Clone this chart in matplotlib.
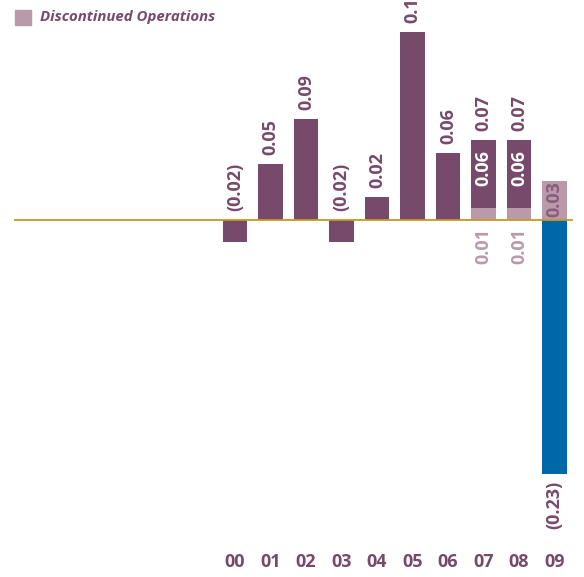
import matplotlib
matplotlib.use("Agg")
import matplotlib.pyplot as plt
from matplotlib.patches import Rectangle

years = ["00", "01", "02", "03", "04", "05", "06", "07", "08", "09"]
continuing = [-0.02, 0.05, 0.09, -0.02, 0.02, 0.168, 0.06, 0.06, 0.06, -0.227]
discontinued = [0, 0, 0, 0, 0, 0, 0, 0.011, 0.011, 0.035]
total_labels = ["(0.02)", "0.05", "0.09", "(0.02)", "0.02", "0.17", "0.06", "0.07", "0.07", ""]
cont_labels = ["", "", "", "", "", "", "", "0.06", "0.06", "(0.23)"]
disc_labels = ["", "", "", "", "", "", "", "0.01", "0.01", "0.03"]

purple = "#774a6b"
light = "#b89aaa"
blue = "#0068a8"
gold = "#c49a22"

plt.rcParams['font.family'] = ['Open Sans', 'DejaVu Sans']

fig = plt.figure(figsize=(5.84, 5.77), dpi=100)
ax = fig.add_axes([0, 0, 1, 1])
ax.set_xlim(-6.62, 9.83)
ax.set_ylim(-0.319, 0.1964)
ax.axis("off")

x = list(range(len(years)))
w = 0.7
for i in x:
    c = continuing[i]
    d = discontinued[i]
    if c < 0:
        col = blue if i == 9 else purple
        ax.bar(i, c, width=w, color=col, zorder=2)
        if d > 0:
            ax.bar(i, d, width=w, color=light, zorder=2)
    else:
        if d > 0:
            ax.bar(i, d, width=w, color=light, zorder=2)
        ax.bar(i, c, bottom=d, width=w, color=purple, zorder=2)

ax.plot([-6.2, 9.5], [0, 0], color=gold, lw=1.3, zorder=3)

lab = dict(rotation=90, ha="center", fontsize=13, fontweight="bold",
           textcoords="offset pixels")
for i in x:
    c = continuing[i]
    d = discontinued[i]
    top = max(c, 0) + d
    if total_labels[i]:
        ax.annotate(total_labels[i], (i, top), xytext=(0, 9), va="bottom",
                    color=purple, **lab)
    if i in (7, 8):
        ax.annotate(cont_labels[i], (i, top), xytext=(0, -10), va="top",
                    color="white", **lab)
        ax.annotate(disc_labels[i], (i, 0), xytext=(0, -8), va="top",
                    color=light, **lab)
    if i == 9:
        ax.annotate(disc_labels[i], (i, 0), xytext=(0, 3), va="bottom",
                    color="#8a5d7e", **lab)
        ax.annotate(cont_labels[i], (i, c), xytext=(0, -7), va="top",
                    color=purple, **lab)
    ax.text(i, -0.306, years[i], ha="center", va="center", fontsize=13,
            fontweight="bold", color=purple)

# legend
fig.patches.append(Rectangle((15 / 584, 1 - 25 / 577), 16 / 584, 15 / 577,
                             transform=fig.transFigure, color=light))
fig.text(40 / 584, 1 - 17.5 / 577, "Discontinued Operations", ha="left",
         va="center", fontsize=10.8, fontweight="bold", fontstyle="italic",
         color=purple)

fig.savefig("out.png", dpi=100)
